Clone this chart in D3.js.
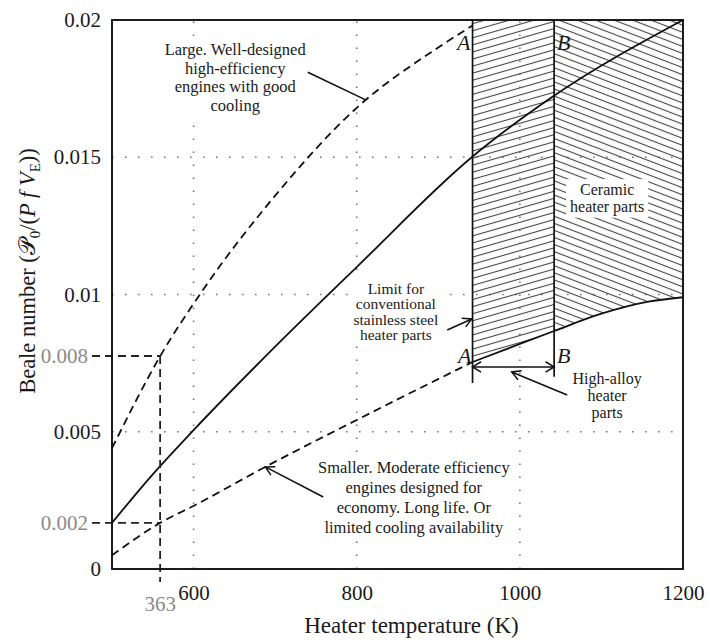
<!DOCTYPE html>
<html><head><meta charset="utf-8">
<script src="https://cdn.jsdelivr.net/npm/d3@7"></script>
<style>
body{margin:0;background:#fff}
svg{display:block}
text{font-family:"Liberation Serif","DejaVu Serif",serif;fill:#1a1a1a}
</style>
</head><body>
<svg id="c" width="710" height="644"></svg>
<script>
// ---------- data ----------
const xDomain = [500, 1200];
const yDomain = [0, 0.02];
const xTicks = [600, 800, 1000, 1200];
const yTicks = [0, 0.005, 0.01, 0.015, 0.02];
const yTickLabels = ["0", "0.005", "0.01", "0.015", "0.02"];
const gridX = [600, 800, 1000];
const gridY = [0.005, 0.01, 0.015];

// upper dashed curve: large well-designed engines
const upperT = [500, 560, 610, 700, 800, 900, 942];
const upperB = [0.0044, 0.0078, 0.0101, 0.0136, 0.0168, 0.0190, 0.0198];
// middle solid curve
const solidT = [500, 547, 600, 700, 800, 941, 1040, 1200];
const solidB = [0.00168, 0.00335, 0.00506, 0.0081, 0.0110, 0.0150, 0.0172, 0.0200];
// lower dashed curve: smaller engines
const lowerT = [500, 559, 602, 688, 800, 942];
const lowerB = [0.0005, 0.00168, 0.00233, 0.00372, 0.00543, 0.00754];
// lower solid boundary of hatched region
const limitT = [942, 1000, 1042, 1100, 1156, 1200];
const limitB = [0.00754, 0.0082, 0.00867, 0.0093, 0.00973, 0.0099];

// material limits A and B
const tA = 942, tB = 1042;
const arrowB = 0.00736;
const lineABottom = 0.00678, lineBBottom = 0.0070;

// reference point 363 annotation
const refT = 559, refLabelT = "363";
const refB = [0.00776, 0.00168];
const refLabelsB = ["0.008", "0.002"];

// annotations (anchor in data units)
const largeLines = ["Large. Well-designed", "high-efficiency", "engines with good", "cooling"];
const limitLines = ["Limit for", "conventional", "stainless steel", "heater parts"];
const ceramicLines = ["Ceramic", "heater parts"];
const alloyLines = ["High-alloy", "heater", "parts"];
const smallLines = ["Smaller. Moderate efficiency", "engines designed for", "economy. Long life. Or", "limited cooling availability"];
const largeLeader = [[740, 0.0181], [811, 0.01709]];
const limitLeader = [[911, 0.00871], [941, 0.00911]];
const alloyLeader = [[1058, 0.00634], [990, 0.00718]];
const smallLeader = [[759, 0.00262], [688, 0.00372]];

// ---------- drawing ----------
const svg = d3.select("#c");
const x = d3.scaleLinear().domain(xDomain).range([112, 683]);
const y = d3.scaleLinear().domain(yDomain).range([569, 20]);
const X0 = x(xDomain[0]), X1 = x(xDomain[1]), Y0 = y(yDomain[0]), Y1 = y(yDomain[1]);

const defs = svg.append("defs");
function hatch(id, angle, spacing) {
  const p = defs.append("pattern").attr("id", id).attr("patternUnits", "userSpaceOnUse")
    .attr("width", 20).attr("height", spacing)
    .attr("patternTransform", `rotate(${angle})`);
  p.append("line").attr("x1", 0).attr("x2", 20).attr("y1", spacing / 2).attr("y2", spacing / 2)
    .attr("stroke", "#444").attr("stroke-width", 1.1);
}
hatch("hUp", -16, 6.8);
hatch("hDown", 21, 6.6);
defs.append("clipPath").attr("id", "clipAB").append("rect")
  .attr("x", x(tA)).attr("y", Y1).attr("width", x(tB) - x(tA)).attr("height", Y0 - Y1);
defs.append("clipPath").attr("id", "clipBC").append("rect")
  .attr("x", x(tB)).attr("y", Y1).attr("width", X1 - x(tB)).attr("height", Y0 - Y1);

// grid
const grid = svg.append("g").attr("stroke", "#777").attr("stroke-width", 1.6)
  .attr("stroke-dasharray", "1.6 11.4");
grid.selectAll(".gx").data(gridX).join("line")
  .attr("x1", d => x(d)).attr("x2", d => x(d)).attr("y1", Y0).attr("y2", Y1);
grid.selectAll(".gy").data(gridY).join("line")
  .attr("y1", d => y(d)).attr("y2", d => y(d)).attr("x1", X0).attr("x2", X1);

// hatched regions
const limitPts = limitT.map((t, i) => [t, limitB[i]]);
const area = d3.area().x(d => x(d[0])).y0(Y1).y1(d => y(d[1])).curve(d3.curveMonotoneX);
svg.append("path").datum(limitPts).attr("d", area).attr("fill", "url(#hUp)").attr("clip-path", "url(#clipAB)");
svg.append("path").datum(limitPts).attr("d", area).attr("fill", "url(#hDown)").attr("clip-path", "url(#clipBC)");

// curves
const line = d3.line().x(d => x(d[0])).y(d => y(d[1])).curve(d3.curveMonotoneX);
const curves = [
  { t: upperT, b: upperB, dash: "8 5" },
  { t: solidT, b: solidB, dash: null },
  { t: lowerT, b: lowerB, dash: "8 5" },
  { t: limitT, b: limitB, dash: null }
];
curves.forEach(c => {
  svg.append("path").datum(c.t.map((t, i) => [t, c.b[i]])).attr("d", line)
    .attr("fill", "none").attr("stroke", "#111").attr("stroke-width", 1.8)
    .attr("stroke-dasharray", c.dash);
});

// A and B lines
svg.append("line").attr("x1", x(tA)).attr("x2", x(tA)).attr("y1", Y1).attr("y2", y(lineABottom))
  .attr("stroke", "#111").attr("stroke-width", 1.7);
svg.append("line").attr("x1", x(tB)).attr("x2", x(tB)).attr("y1", Y1).attr("y2", y(lineBBottom))
  .attr("stroke", "#111").attr("stroke-width", 1.7);

function arrowHead(g, x1, y1, x2, y2, len = 10, ang = 0.5) {
  const a = Math.atan2(y1 - y2, x1 - x2);
  const p1 = [x2 + len * Math.cos(a + ang), y2 + len * Math.sin(a + ang)];
  const p2 = [x2 + len * Math.cos(a - ang), y2 + len * Math.sin(a - ang)];
  g.append("path").attr("d", `M${p1}L${x2},${y2}L${p2}`).attr("fill", "none")
    .attr("stroke", "#111").attr("stroke-width", 1.5);
}
// double arrow A-B
const ab = svg.append("g");
ab.append("line").attr("x1", x(tA)).attr("x2", x(tB)).attr("y1", y(arrowB)).attr("y2", y(arrowB))
  .attr("stroke", "#111").attr("stroke-width", 1.5);
arrowHead(ab, x(tB), y(arrowB), x(tA), y(arrowB), 10, 0.55);
arrowHead(ab, x(tA), y(arrowB), x(tB), y(arrowB), 10, 0.55);

// reference dashed lines (363)
const ref = svg.append("g").attr("stroke", "#222").attr("stroke-width", 1.8).attr("stroke-dasharray", "8 5");
refB.forEach(b => ref.append("line").attr("x1", X0 - 20).attr("x2", x(refT)).attr("y1", y(b)).attr("y2", y(b)));
ref.append("line").attr("x1", x(refT)).attr("x2", x(refT)).attr("y1", y(refB[0])).attr("y2", Y0 + 13);

// frame
svg.append("rect").attr("x", X0).attr("y", Y1).attr("width", X1 - X0).attr("height", Y0 - Y1)
  .attr("fill", "none").attr("stroke", "#111").attr("stroke-width", 1.9);

// axes
const gx = svg.append("g").attr("transform", `translate(0,${Y0})`)
  .call(d3.axisBottom(x).tickValues(xTicks).tickSize(0).tickPadding(16).tickFormat(d3.format("d")));
gx.select(".domain").remove();
gx.selectAll("text").attr("font-size", 21).attr("font-family", null).attr("fill", null);

const gy = svg.append("g").attr("transform", `translate(${X0},0)`)
  .call(d3.axisLeft(y).tickValues(yTicks).tickSize(0).tickPadding(11).tickFormat((d, i) => yTickLabels[i]));
gy.select(".domain").remove();
gy.selectAll("text").attr("font-size", 21).attr("font-family", null).attr("fill", null);

// grey reference labels
refB.forEach((b, i) => svg.append("text").attr("x", X0 - 24).attr("y", y(b)).attr("dy", "0.33em")
  .attr("text-anchor", "end").attr("font-size", 21).style("fill", "#8a8a8a").text(refLabelsB[i]));
svg.append("text").attr("x", x(refT)).attr("y", Y0 + 42).attr("text-anchor", "middle")
  .attr("font-size", 21).style("fill", "#8a8a8a").text(refLabelT);

// axis titles
svg.append("text").attr("x", (X0 + X1) / 2 + 14).attr("y", 633).attr("text-anchor", "middle")
  .attr("font-size", 23).text("Heater temperature (K)");
const yt = svg.append("text").attr("transform", `translate(35,271) rotate(-90)`)
  .attr("text-anchor", "middle").attr("font-size", 22.5);
yt.append("tspan").text("Beale number (");
yt.append("tspan").text("\u{1D4AB}");
yt.append("tspan").attr("font-size", 15).attr("dy", 5).text("0");
yt.append("tspan").attr("dy", -5).text("/(");
yt.append("tspan").attr("font-style", "italic").text("P f V");
yt.append("tspan").attr("font-size", 15).attr("dy", 5).text("E");
yt.append("tspan").attr("dy", -5).text("))");

// A / B labels
const abl = svg.append("g").attr("font-size", 22).attr("font-style", "italic");
abl.append("text").attr("x", x(tA) - 2).attr("y", 50).attr("text-anchor", "end").text("A");
abl.append("text").attr("x", x(tB) + 3).attr("y", 50).text("B");
abl.append("text").attr("x", x(tA) - 1).attr("y", 363).attr("text-anchor", "end").text("A");
abl.append("text").attr("x", x(tB) + 3).attr("y", 363).text("B");

// annotation blocks
function block(lines, cxT, byB, lh, fs, pad) {
  const g = svg.append("g");
  const t = g.append("text").attr("text-anchor", "middle").attr("font-size", fs);
  lines.forEach((l, i) => t.append("tspan").attr("x", x(cxT)).attr("y", y(byB) + i * lh).text(l));
  if (pad != null) {
    const b = t.node().getBBox();
    g.insert("rect", "text").attr("x", b.x - pad).attr("y", b.y - pad + 2)
      .attr("width", b.width + 2 * pad).attr("height", b.height + 2 * pad - 4).attr("fill", "#fff");
  }
}
block(largeLines, 651, 0.01872, 18.5, 16.5, 2);
block(limitLines, 848, 0.01003, 15.5, 15.5, 2);
block(ceramicLines, 1107, 0.01362, 16.5, 16, 4);
block(alloyLines, 1107, 0.00674, 17, 16, null);
block(smallLines, 870, 0.0035, 20, 16.5, 2);

// leaders
const lead = svg.append("g");
function leader(pts, head) {
  const p = pts.map(d => [x(d[0]), y(d[1])]);
  lead.append("line").attr("x1", p[0][0]).attr("y1", p[0][1]).attr("x2", p[1][0]).attr("y2", p[1][1])
    .attr("stroke", "#111").attr("stroke-width", 1.6);
  if (head) arrowHead(lead, p[0][0], p[0][1], p[1][0], p[1][1], 10, 0.5);
}
leader(largeLeader, false);
leader(limitLeader, true);
leader(alloyLeader, true);
leader(smallLeader, true);
</script>
</body></html>
